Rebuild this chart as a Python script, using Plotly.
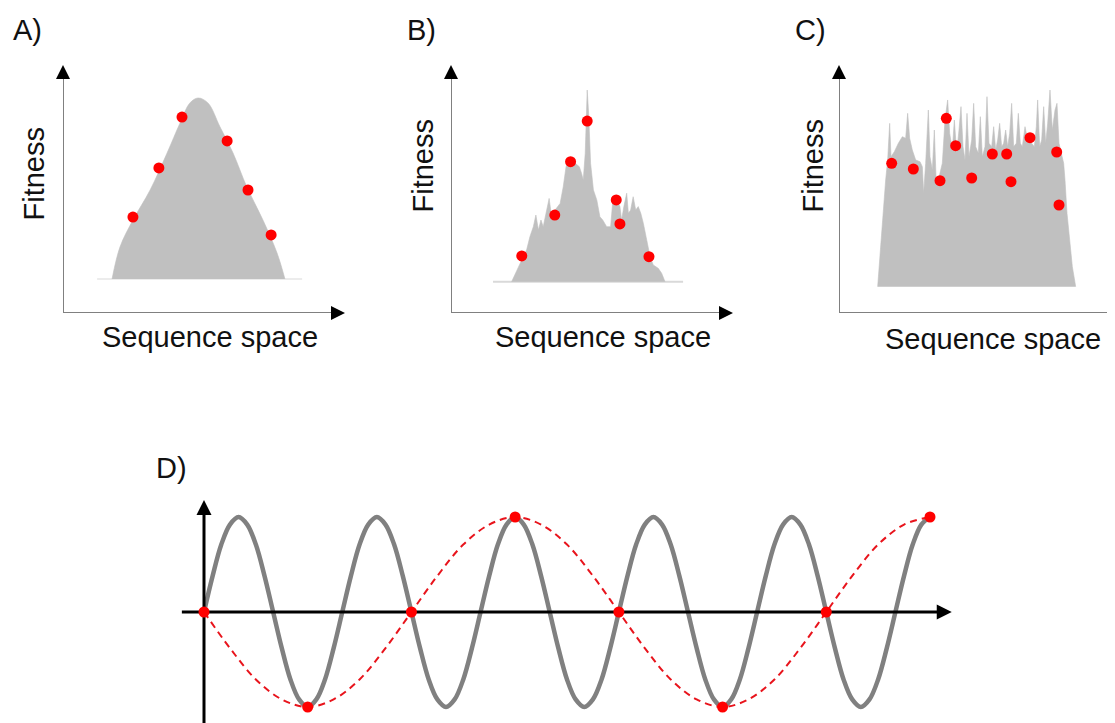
import plotly.graph_objects as go

W, H = 1115, 723
OFF = 8  # the page body margin shifts the figure by this many pixels

# ---------------- data (sequence position, fitness) ----------------
# Panel A: smooth single-peaked landscape
a_land_x = [17.4, 20.2, 24.8, 30.9, 36.9, 41.5, 45.0, 47.9, 51.4, 55.7, 60.3, 65.2, 70.9, 75.9, 78.7]
a_land_y = [13.7, 26.6, 37.5, 49.6, 64.5, 76.6, 84.7, 86.7, 84.7, 75.0, 64.5, 50.8, 37.5, 24.2, 13.7]
a_base_x = [12.1, 84.8]
a_base_y = [13.7, 13.7]
a_dot_x = [24.8, 34.0, 42.2, 58.2, 65.6, 73.8]
a_dot_y = [38.7, 58.5, 79.0, 69.4, 49.6, 31.5]

# Panel B: rugged landscape
b_land_x = [21.5, 23.3, 25.1, 26.8, 28.0, 29.2, 30.1, 31.0, 31.9, 32.7,
            33.9, 34.8, 35.5, 36.9, 38.7, 39.8, 40.8, 42.2, 44.0, 45.5,
            46.3, 46.9, 47.6, 48.1, 48.3, 48.8, 49.5, 50.5, 51.7, 52.8,
            53.8, 55.2, 56.6, 57.3, 58.8, 59.9, 60.5, 61.3, 62.3, 62.9,
            63.7, 64.6, 65.5, 66.4, 67.3, 68.2, 69.4, 70.6, 71.7, 73.5,
            74.7, 75.9]
b_land_y = [12.6, 17.3, 21.4, 25.4, 30.8, 34.8, 39.5, 33.5, 37.5, 34.8,
            41.5, 46.2, 40.2, 41.5, 44.2, 50.9, 59.0, 61.7, 60.4, 59.0,
            56.3, 53.6, 64.4, 80.5, 89.9, 80.5, 60.4, 49.6, 45.6, 38.8,
            37.5, 34.8, 34.8, 44.2, 45.6, 42.9, 37.5, 42.9, 48.3, 40.2,
            41.5, 46.9, 41.5, 42.9, 40.2, 36.2, 29.4, 22.7, 19.4, 18.0,
            16.0, 12.6]
b_base_x = [14.9, 82.3]
b_base_y = [12.6, 12.6]
b_dot_x = [25.1, 36.8, 42.4, 48.3, 58.6, 59.9, 70.2]
b_dot_y = [23.0, 39.5, 61.0, 77.4, 45.6, 35.9, 22.7]

# Panel C: highly rugged (random-like) landscape
c_land_x = [13.71, 14.54, 15.72, 16.55, 17.26, 17.97, 18.44, 19.62, 21.04, 22.46,
            23.64, 24.35, 25.06, 26.00, 27.19, 28.72, 29.55, 30.02, 30.73, 31.21,
            31.68, 32.27, 33.10, 33.81, 34.40, 35.22, 36.64, 37.59, 38.53, 39.24,
            40.19, 40.90, 41.73, 42.55, 43.26, 43.97, 44.68, 45.39, 46.10, 47.05,
            47.75, 48.46, 49.41, 50.12, 50.83, 51.77, 52.48, 53.19, 54.14, 54.85,
            55.56, 56.26, 56.97, 57.68, 58.39, 59.10, 59.81, 60.52, 61.23, 61.94,
            62.88, 63.59, 64.30, 65.01, 65.96, 66.90, 68.32, 69.27, 69.98, 70.45,
            71.16, 71.87, 72.58, 73.29, 74.00, 74.82, 75.65, 76.60, 77.30, 78.01,
            78.96, 79.67, 80.14, 80.85, 81.80, 82.74, 83.93]
c_land_y = [10.62, 24.06, 40.19, 53.63, 61.69, 76.48, 63.04, 65.05, 68.41, 71.10,
            70.43, 80.51, 70.43, 65.73, 61.69, 61.02, 59.01, 48.25, 60.35, 69.76,
            81.85, 63.04, 57.66, 73.79, 54.97, 53.63, 60.35, 77.82, 85.89, 72.45,
            65.73, 77.82, 64.38, 73.79, 83.20, 67.07, 61.69, 80.51, 63.04, 69.76,
            84.54, 67.07, 64.38, 79.17, 63.04, 67.07, 87.23, 68.41, 67.07, 75.13,
            65.73, 69.76, 76.48, 67.07, 68.41, 73.79, 67.07, 72.45, 84.54, 67.07,
            68.41, 80.51, 68.41, 67.07, 75.13, 69.76, 68.41, 67.07, 75.13, 85.89,
            67.07, 69.76, 83.20, 68.41, 76.48, 89.92, 73.79, 81.85, 84.54, 68.41,
            64.38, 60.35, 53.63, 40.19, 29.44, 18.68, 10.62]
c_dot_x = [18.68, 26.36, 35.82, 38.06, 41.37, 47.05, 54.37, 59.46, 60.99, 67.73, 77.19, 78.01]
c_dot_y = [60.35, 58.06, 53.36, 78.49, 67.47, 54.44, 64.11, 64.11, 52.96, 70.70, 64.92, 43.55]

# Panel D: fast oscillation (gray, read every 1/16 period) and its aliased signal (red)
d_wave_x = [0, 0.25, 0.5, 0.75, 1, 1.25, 1.5, 1.75, 2, 2.25, 2.5, 2.75, 3, 3.25, 3.5, 3.75,
            4, 4.25, 4.5, 4.75, 5, 5.25, 5.5, 5.75, 6, 6.25, 6.5, 6.75, 7, 7.25, 7.5, 7.75,
            8, 8.25, 8.5, 8.75, 9, 9.25, 9.5, 9.75, 10, 10.25, 10.5, 10.75, 11, 11.25, 11.5, 11.75,
            12, 12.25, 12.5, 12.75, 13, 13.25, 13.5, 13.75, 14, 14.25, 14.5, 14.75, 15, 15.25, 15.5, 15.75,
            16, 16.25, 16.5, 16.75, 17, 17.25, 17.5, 17.75, 18, 18.25, 18.5, 18.75, 19, 19.25, 19.5, 19.75,
            20, 20.25, 20.5, 20.75, 21]
d_wave_y = [0, 0.38, 0.71, 0.92, 1, 0.92, 0.71, 0.38, 0, -0.38, -0.71, -0.92, -1, -0.92, -0.71, -0.38,
            0, 0.38, 0.71, 0.92, 1, 0.92, 0.71, 0.38, 0, -0.38, -0.71, -0.92, -1, -0.92, -0.71, -0.38,
            0, 0.38, 0.71, 0.92, 1, 0.92, 0.71, 0.38, 0, -0.38, -0.71, -0.92, -1, -0.92, -0.71, -0.38,
            0, 0.38, 0.71, 0.92, 1, 0.92, 0.71, 0.38, 0, -0.38, -0.71, -0.92, -1, -0.92, -0.71, -0.38,
            0, 0.38, 0.71, 0.92, 1, 0.92, 0.71, 0.38, 0, -0.38, -0.71, -0.92, -1, -0.92, -0.71, -0.38,
            0, 0.38, 0.71, 0.92, 1]
d_alias_x = [0, 0.75, 1.5, 2.25, 3, 3.75, 4.5, 5.25, 6, 6.75, 7.5, 8.25, 9, 9.75, 10.5, 11.25,
             12, 12.75, 13.5, 14.25, 15, 15.75, 16.5, 17.25, 18, 18.75, 19.5, 20.25, 21]
d_alias_y = [0, -0.38, -0.71, -0.92, -1, -0.92, -0.71, -0.38, 0, 0.38, 0.71, 0.92, 1, 0.92, 0.71, 0.38,
             0, -0.38, -0.71, -0.92, -1, -0.92, -0.71, -0.38, 0, 0.38, 0.71, 0.92, 1]
d_sample_x = [0, 3, 6, 9, 12, 15, 18, 21]
d_sample_y = [0, -1, 0, 1, 0, -1, 0, 1]

panel_labels = ["A)", "B)", "C)", "D)"]
x_title = "Sequence space"
y_title = "Fitness"

# ---------------- styling ----------------
FONT = "Liberation Sans, Arial, Helvetica, sans-serif"
TXT = "#111111"
FILL = "#c0c0c0"
RED = "#ff0000"
AXGRAY = "#808080"


def px(x):
    return (x - OFF) / W


def py(y):
    return 1 - (y - OFF) / H


fig = go.Figure()


def landscape_panel(xa, ya, lx, ly, dx, dy, bx=None, by=None, bcol="#dcdcdc", shape="linear"):
    if bx is not None:
        fig.add_trace(go.Scatter(x=bx, y=by, mode="lines",
                                 line=dict(color=bcol, width=2),
                                 xaxis=xa, yaxis=ya, hoverinfo="skip"))
    fig.add_trace(go.Scatter(x=lx, y=ly, mode="lines", fill="toself",
                             fillcolor=FILL, line=dict(color=FILL, width=0.6, shape=shape),
                             xaxis=xa, yaxis=ya, hoverinfo="skip"))
    fig.add_trace(go.Scatter(x=[0, 0, None, 0, 96], y=[96, 0, None, 0, 0], mode="lines",
                             line=dict(color=AXGRAY, width=2),
                             xaxis=xa, yaxis=ya, hoverinfo="skip"))
    fig.add_trace(go.Scatter(x=[0, 100], y=[100, 0], mode="markers",
                             marker=dict(symbol=["arrow-up", "arrow-right"], size=14,
                                         color="black", line=dict(width=0)),
                             cliponaxis=False, xaxis=xa, yaxis=ya, hoverinfo="skip"))
    fig.add_trace(go.Scatter(x=dx, y=dy, mode="markers",
                             marker=dict(color=RED, size=11, line=dict(width=0)),
                             cliponaxis=False, xaxis=xa, yaxis=ya, hoverinfo="skip"))


landscape_panel("x", "y", a_land_x, a_land_y, a_dot_x, a_dot_y, a_base_x, a_base_y, "#ececec", "spline")
landscape_panel("x2", "y2", b_land_x, b_land_y, b_dot_x, b_dot_y, b_base_x, b_base_y, "#d9d9d9")
landscape_panel("x3", "y3", c_land_x, c_land_y, c_dot_x, c_dot_y)

# Panel D
fig.add_trace(go.Scatter(x=d_wave_x, y=d_wave_y, mode="lines",
                         line=dict(color="#808080", width=4.5, shape="spline", smoothing=1),
                         xaxis="x4", yaxis="y4", hoverinfo="skip"))
fig.add_trace(go.Scatter(x=[-0.64, 21.32, None, 0, 0], y=[0, 0, None, -1.4, 1.07], mode="lines",
                         line=dict(color="black", width=3),
                         xaxis="x4", yaxis="y4", hoverinfo="skip"))
fig.add_trace(go.Scatter(x=[21.63, 0], y=[0, 1.179], mode="markers",
                         marker=dict(symbol=["arrow-right", "arrow-up"], size=15,
                                     color="black", line=dict(width=0)),
                         cliponaxis=False, xaxis="x4", yaxis="y4", hoverinfo="skip"))
fig.add_trace(go.Scatter(x=d_alias_x, y=d_alias_y, mode="lines",
                         line=dict(color="#e8141c", width=2, dash="7px,5px",
                                   shape="spline", smoothing=1),
                         xaxis="x4", yaxis="y4", hoverinfo="skip"))
fig.add_trace(go.Scatter(x=d_sample_x, y=d_sample_y, mode="markers",
                         marker=dict(color=RED, size=11, line=dict(width=0)),
                         cliponaxis=False, xaxis="x4", yaxis="y4", hoverinfo="skip"))

hidden = dict(visible=False, showgrid=False, zeroline=False, fixedrange=True)
top_dom = [py(313), py(65)]

annotations = []
label_pos = [(27.5, 30), (421, 30), (810, 30), (171.5, 468)]
for t, (lx, ly) in zip(panel_labels, label_pos):
    annotations.append(dict(text=t, x=px(lx), y=py(ly), xref="paper", yref="paper",
                            xanchor="center", yanchor="middle", showarrow=False,
                            font=dict(family=FONT, size=29, color=TXT)))
for (fx, fy) in [(33.5, 174), (422.5, 166), (812.5, 166)]:
    annotations.append(dict(text=y_title, x=px(fx), y=py(fy), xref="paper", yref="paper",
                            xanchor="center", yanchor="middle", textangle=-90, showarrow=False,
                            font=dict(family=FONT, size=29, color=TXT)))
for (sx, sy) in [(210, 337), (603, 337), (992.5, 339)]:
    annotations.append(dict(text=x_title, x=px(sx), y=py(sy), xref="paper", yref="paper",
                            xanchor="center", yanchor="middle", showarrow=False,
                            font=dict(family=FONT, size=29, color=TXT)))

x3_end = W + OFF
fig.update_layout(
    width=W, height=H,
    margin=dict(l=0, r=0, t=0, b=0),
    paper_bgcolor="white", plot_bgcolor="rgba(0,0,0,0)",
    showlegend=False, hovermode=False,
    xaxis=dict(domain=[px(63), px(345)], range=[0, 100], **hidden),
    yaxis=dict(domain=top_dom, range=[0, 100], **hidden),
    xaxis2=dict(domain=[px(451), px(733)], range=[0, 100], **hidden),
    yaxis2=dict(domain=top_dom, range=[0, 100], **hidden),
    xaxis3=dict(domain=[px(839), 1.0], range=[0, (x3_end - 839) / 2.82], **hidden),
    yaxis3=dict(domain=top_dom, range=[0, 100], **hidden),
    xaxis4=dict(domain=[px(150), px(1000)], range=[(150 - 204) / 34.571, (1000 - 204) / 34.571], **hidden),
    yaxis4=dict(domain=[py(723), py(490)], range=[(612 - 723) / 95, (612 - 490) / 95], **hidden),
    annotations=annotations,
)

fig.write_html("out.html")
